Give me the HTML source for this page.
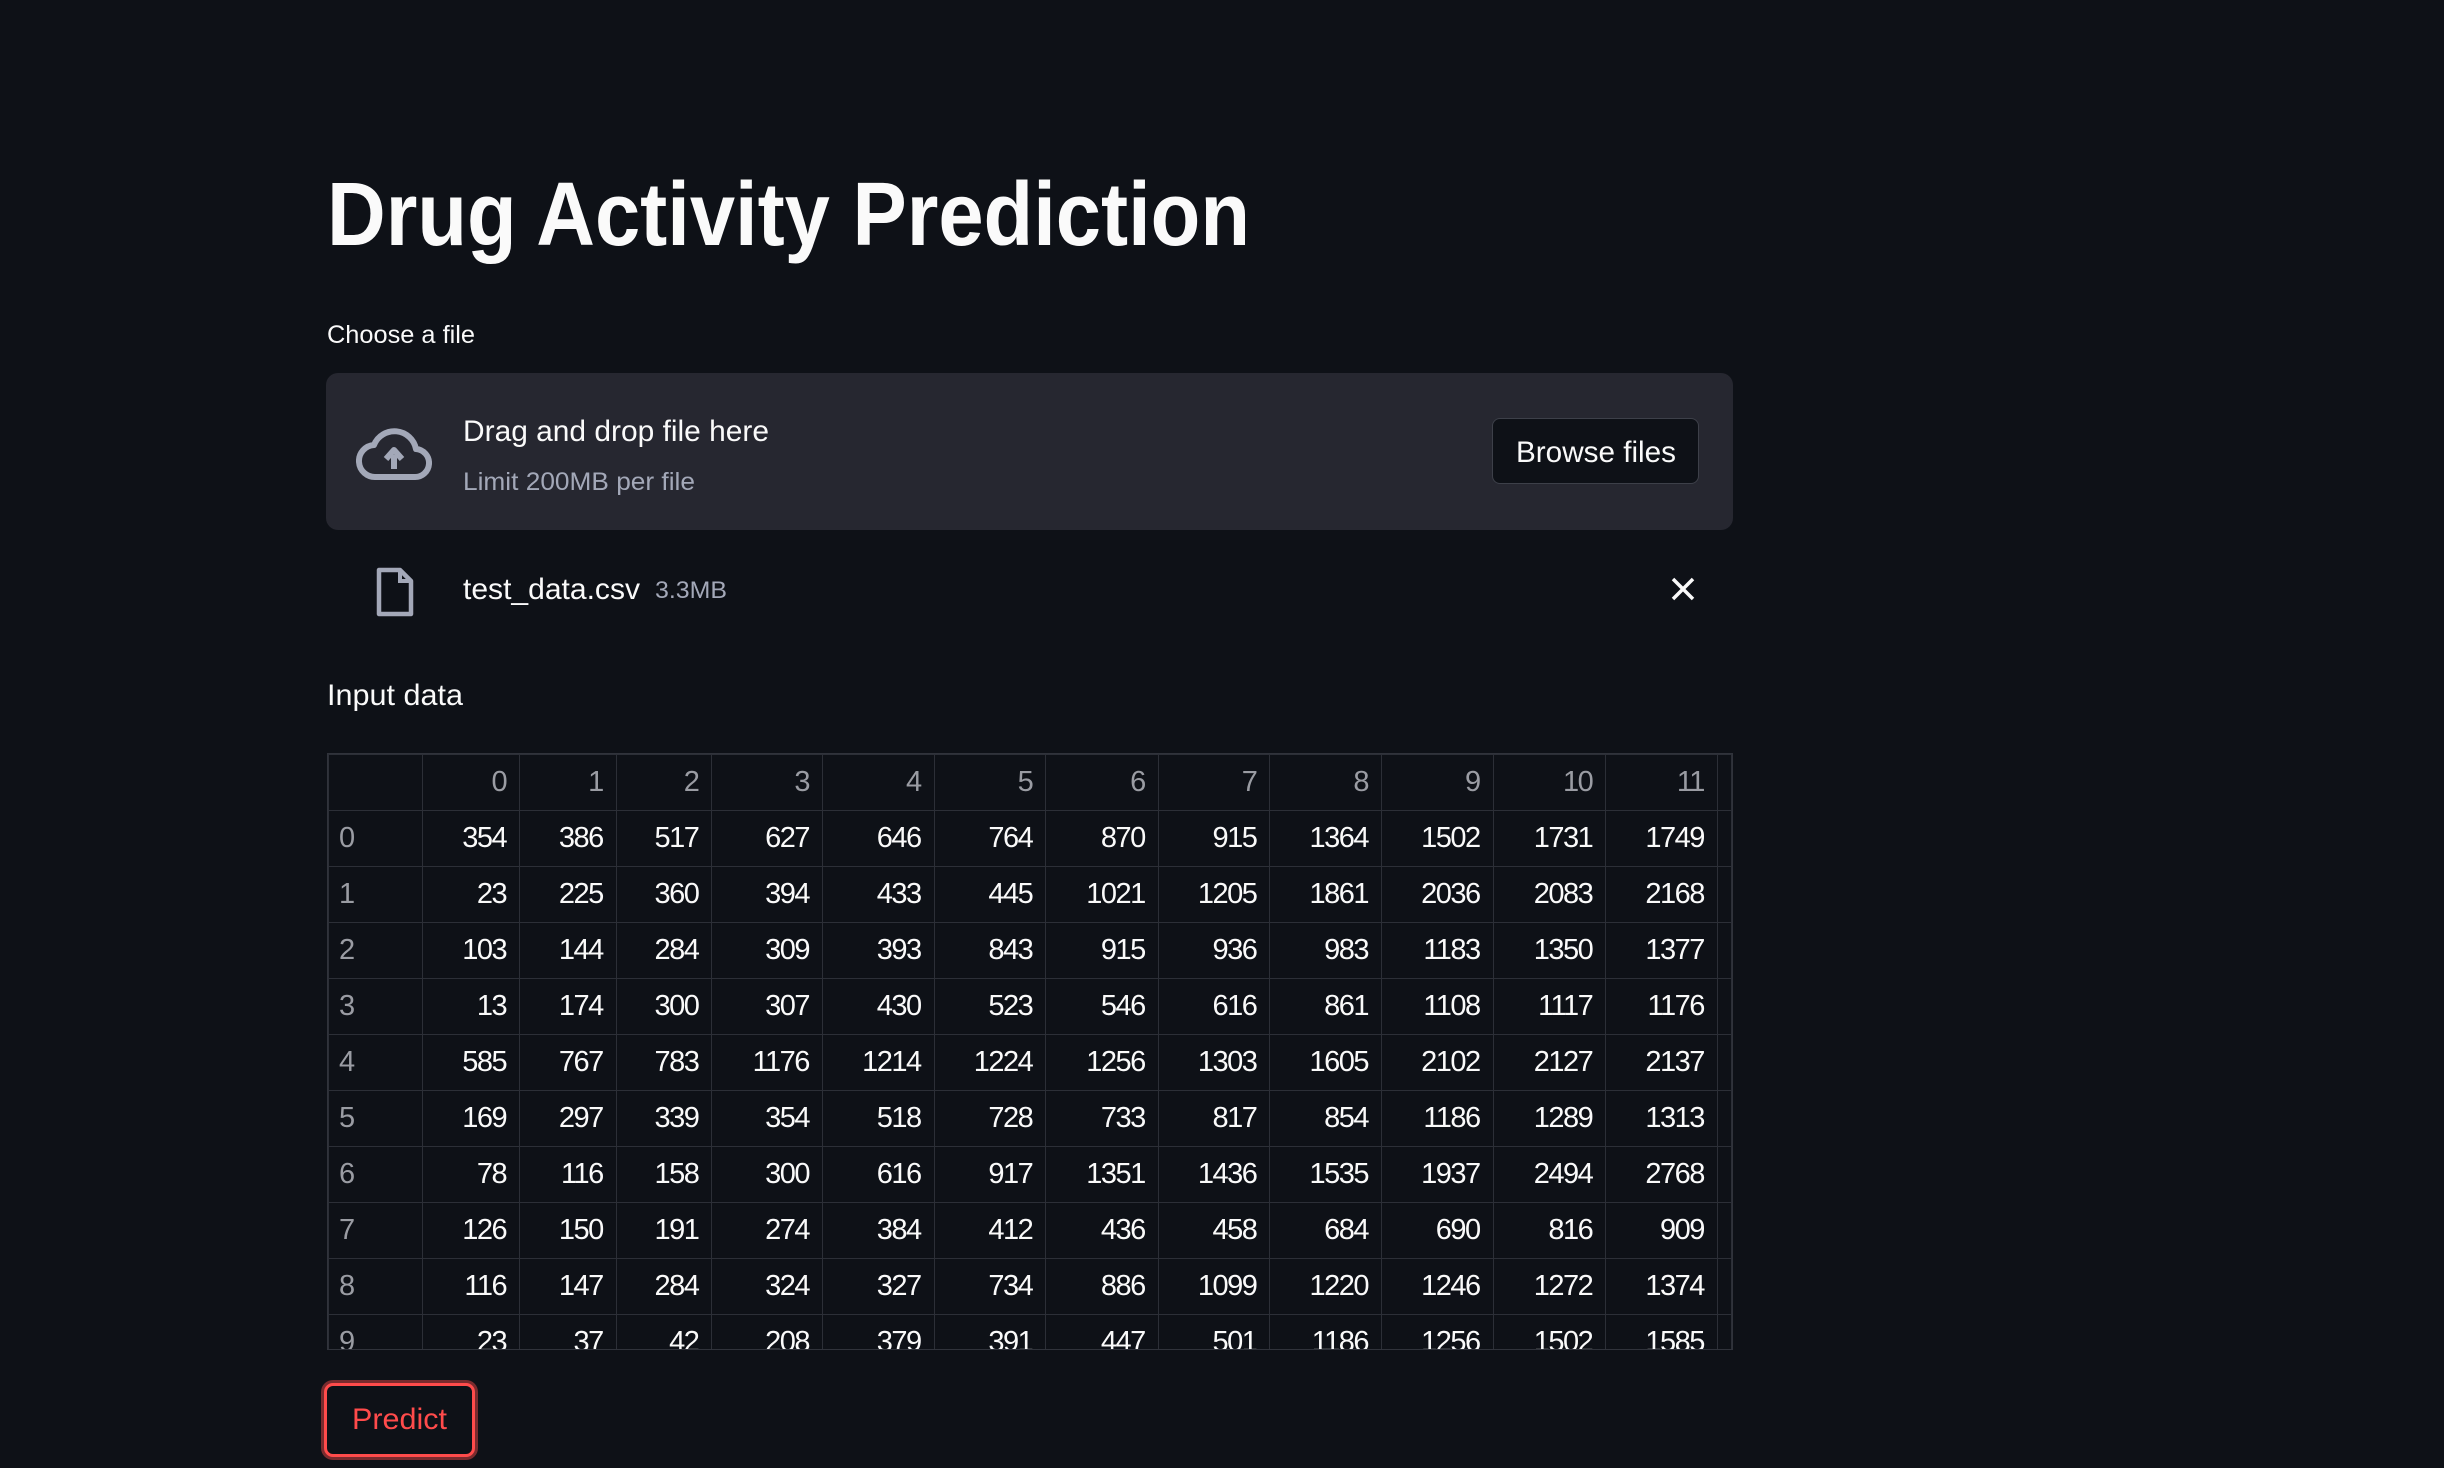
<!DOCTYPE html>
<html><head><meta charset="utf-8">
<style>
html,body{margin:0;padding:0;background:#0e1117;width:2444px;height:1468px;overflow:hidden;font-family:"Liberation Sans",sans-serif;color:#fafafa}
.abs{position:absolute;white-space:nowrap}
.fit{display:inline-block;transform-origin:0 50%}
#drop{position:absolute;left:326px;top:373px;width:1407px;height:157px;background:#262730;border-radius:12px}
#browse{position:absolute;left:1492px;top:418px;width:207px;height:66px;background:#0e1117;border:1.5px solid #3d4049;border-radius:8px;box-sizing:border-box}
#tablewrap{position:absolute;left:327px;top:753px;width:1406px;height:597px;overflow:hidden;border:1.5px solid #30333b;box-sizing:border-box}
table{border-collapse:collapse;font-size:29px}
td,th{border:1.5px solid #2c2f37;height:56px;padding:0 13px 0 0;text-align:right;font-weight:normal;box-sizing:border-box}
th{color:#9a9ca3}
td.idx{text-align:left;padding-left:10px;color:#9a9ca3}
#predict{position:absolute;left:324px;top:1383px;width:151px;height:74px;border:3px solid #ff4b4b;border-radius:9px;box-shadow:0 0 0 3px rgba(255,75,75,0.45);box-sizing:border-box;background:#0e1117}
</style></head><body>
<div class="abs" style="left:327px;top:160px;font-size:90px;font-weight:bold;line-height:110px"><span class="fit" data-w="923">Drug Activity Prediction</span></div>
<div class="abs" style="left:327px;top:318px;font-size:25px;line-height:34px"><span class="fit" data-w="148">Choose a file</span></div>
<div id="drop"></div>
<svg class="abs" style="left:356px;top:425px" width="76" height="58" viewBox="0 0 76 58">
<path d="M20 52 H58 A14 14 0 0 0 60 24 A22 22 0 0 0 18 20 A16 16 0 0 0 20 52 Z" fill="none" stroke="#a3a8b8" stroke-width="6" stroke-linejoin="round"/>
<path d="M38 44 V30 M30 34 L38 25 L46 34" fill="none" stroke="#a3a8b8" stroke-width="6" stroke-linejoin="round"/>
</svg>
<div class="abs" style="left:463px;top:412px;font-size:30px;line-height:40px"><span class="fit" data-w="306">Drag and drop file here</span></div>
<div class="abs" style="left:463px;top:465px;font-size:25px;line-height:34px;color:#a3a8b8"><span class="fit" data-w="232">Limit 200MB per file</span></div>
<div id="browse"></div>
<div class="abs" style="left:1516px;top:433px;font-size:30px;line-height:40px"><span class="fit" data-w="160">Browse files</span></div>
<svg class="abs" style="left:374px;top:566px" width="42" height="52" viewBox="0 0 42 52">
<path d="M5 4 H26 L37 15 V48 H5 Z" fill="none" stroke="#a3a8b8" stroke-width="4.5" stroke-linejoin="round"/>
<path d="M26 4 V15 H37" fill="none" stroke="#a3a8b8" stroke-width="4"/>
</svg>
<div class="abs" style="left:463px;top:570px;font-size:30px;line-height:40px"><span class="fit" data-w="177">test_data.csv</span></div>
<div class="abs" style="left:655px;top:574px;font-size:24px;line-height:34px;color:#a3a8b8"><span class="fit" data-w="72">3.3MB</span></div>
<svg class="abs" style="left:1670px;top:576px" width="26" height="26" viewBox="0 0 26 26"><path d="M3 3 L23 23 M23 3 L3 23" stroke="#fafafa" stroke-width="3.5"/></svg>
<div class="abs" style="left:327px;top:676px;font-size:30px;line-height:40px"><span class="fit" data-w="136">Input data</span></div>
<div id="tablewrap"><table id="tbl"></table></div>
<div id="predict"></div>
<div class="abs" style="left:352px;top:1400px;font-size:30px;line-height:40px;color:#ff4b4b"><span class="fit" data-w="95">Predict</span></div>
<script>
const colWidths=[95,97,97,96,111,112,112,113,112,112,112,113,112,12];
const columns=["0","1","2","3","4","5","6","7","8","9","10","11"];
const rows=[
[354,386,517,627,646,764,870,915,1364,1502,1731,1749],
[23,225,360,394,433,445,1021,1205,1861,2036,2083,2168],
[103,144,284,309,393,843,915,936,983,1183,1350,1377],
[13,174,300,307,430,523,546,616,861,1108,1117,1176],
[585,767,783,1176,1214,1224,1256,1303,1605,2102,2127,2137],
[169,297,339,354,518,728,733,817,854,1186,1289,1313],
[78,116,158,300,616,917,1351,1436,1535,1937,2494,2768],
[126,150,191,274,384,412,436,458,684,690,816,909],
[116,147,284,324,327,734,886,1099,1220,1246,1272,1374],
[23,37,42,208,379,391,447,501,1186,1256,1502,1585]];
const tbl=document.getElementById('tbl');
const hr=document.createElement('tr');


const c0=document.createElement('th');c0.style.width=colWidths[0]+'px';hr.appendChild(c0);
columns.forEach((c,i)=>{const th=document.createElement('th');


th.style.width=colWidths[i+1]+'px';th.textContent=c;hr.appendChild(th);});
const pad=document.createElement('th');pad.style.width=colWidths[13]+'px';hr.appendChild(pad);
tbl.appendChild(hr);
rows.forEach((r,ri)=>{const tr=document.createElement('tr');


const idx=document.createElement('td');idx.className='idx';idx.textContent=ri;


tr.appendChild(idx);
r.forEach(v=>{const td=document.createElement('td');


td.textContent=v;tr.appendChild(td);});
tr.appendChild(document.createElement('td'));
tbl.appendChild(tr);});
tbl.style.tableLayout='fixed';
document.querySelectorAll('.fit').forEach(e=>{const w=e.getBoundingClientRect().width;const t=+e.dataset.w;if(w>0)e.style.transform='scaleX('+(t/w)+')';});
document.querySelectorAll('td,th').forEach(e=>{if(e.textContent&&!e.classList.contains('idx')){e.style.letterSpacing='-1.5px';}});
</script>
</body></html>
